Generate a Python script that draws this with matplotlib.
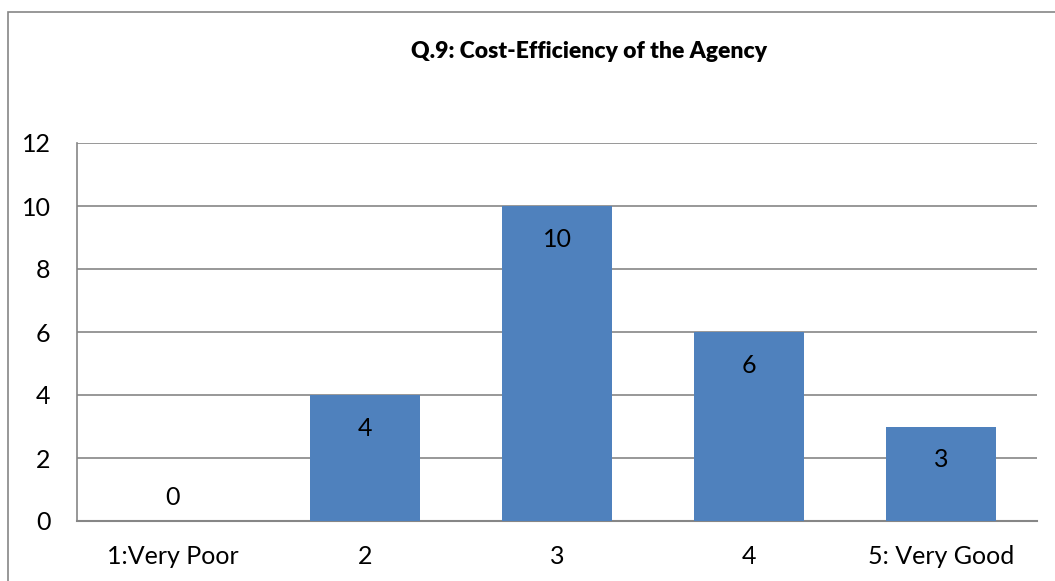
import matplotlib
matplotlib.use("Agg")
import matplotlib.pyplot as plt
from matplotlib.patches import Rectangle

# Data
categories = ["1:Very Poor", "2", "3", "4", "5: Very Good"]
counts = [0, 4, 10, 6, 3]
title = "Q.9: Cost-Efficiency of the Agency"
yticks = [0, 2, 4, 6, 8, 10, 12]

bar_color = "#4F81BD"
grid_color = "#868686"

plt.rcParams['font.family'] = ['Lato', 'DejaVu Sans']

fig = plt.figure(figsize=(10.55, 5.81), dpi=100)
ax = fig.add_axes([77 / 1055, 1 - 521 / 581, (1037 - 77) / 1055, (521 - 143) / 581])

x = list(range(len(categories)))
bars = ax.bar(x, counts, width=0.573, color=bar_color, zorder=3)

ax.set_xlim(-0.5, len(categories) - 0.5)
ax.set_ylim(0, 12)
ax.set_yticks(yticks)
ax.set_xticks(x)
ax.set_xticklabels(categories)
ax.tick_params(axis='both', length=0, labelsize=18, colors='black')
ax.tick_params(axis='y', pad=19)
ax.tick_params(axis='x', pad=17)

ax.yaxis.grid(True, color=grid_color, linewidth=1.2, zorder=0)
ax.set_axisbelow(True)
for side in ['top', 'right']:
    ax.spines[side].set_visible(False)
ax.spines['left'].set_color(grid_color)
ax.spines['left'].set_linewidth(1.2)
ax.spines['bottom'].set_color(grid_color)
ax.spines['bottom'].set_linewidth(1.5)

# value labels: inside the bar top, zero above the axis
for xi, v in zip(x, counts):
    if v > 0:
        ax.annotate(str(v), (xi, v), xytext=(0, -24), textcoords='offset points',
                    ha='center', va='center', fontsize=18, zorder=4)
    else:
        ax.annotate(str(v), (xi, v), xytext=(0, 17), textcoords='offset points',
                    ha='center', va='center', fontsize=18, zorder=4)

fig.text(589 / 1055, 1 - 52 / 581, title, ha='center', va='center',
         fontsize=16.5, fontweight='heavy')

# outer chart border (cut at right and bottom)
fig.patches.append(Rectangle((7.5 / 1055, -0.1), 1.2, 1 - 11.5 / 581 + 0.1,
                             transform=fig.transFigure, fill=False,
                             edgecolor=grid_color, linewidth=1.2))

fig.savefig("out.png", dpi=100)
